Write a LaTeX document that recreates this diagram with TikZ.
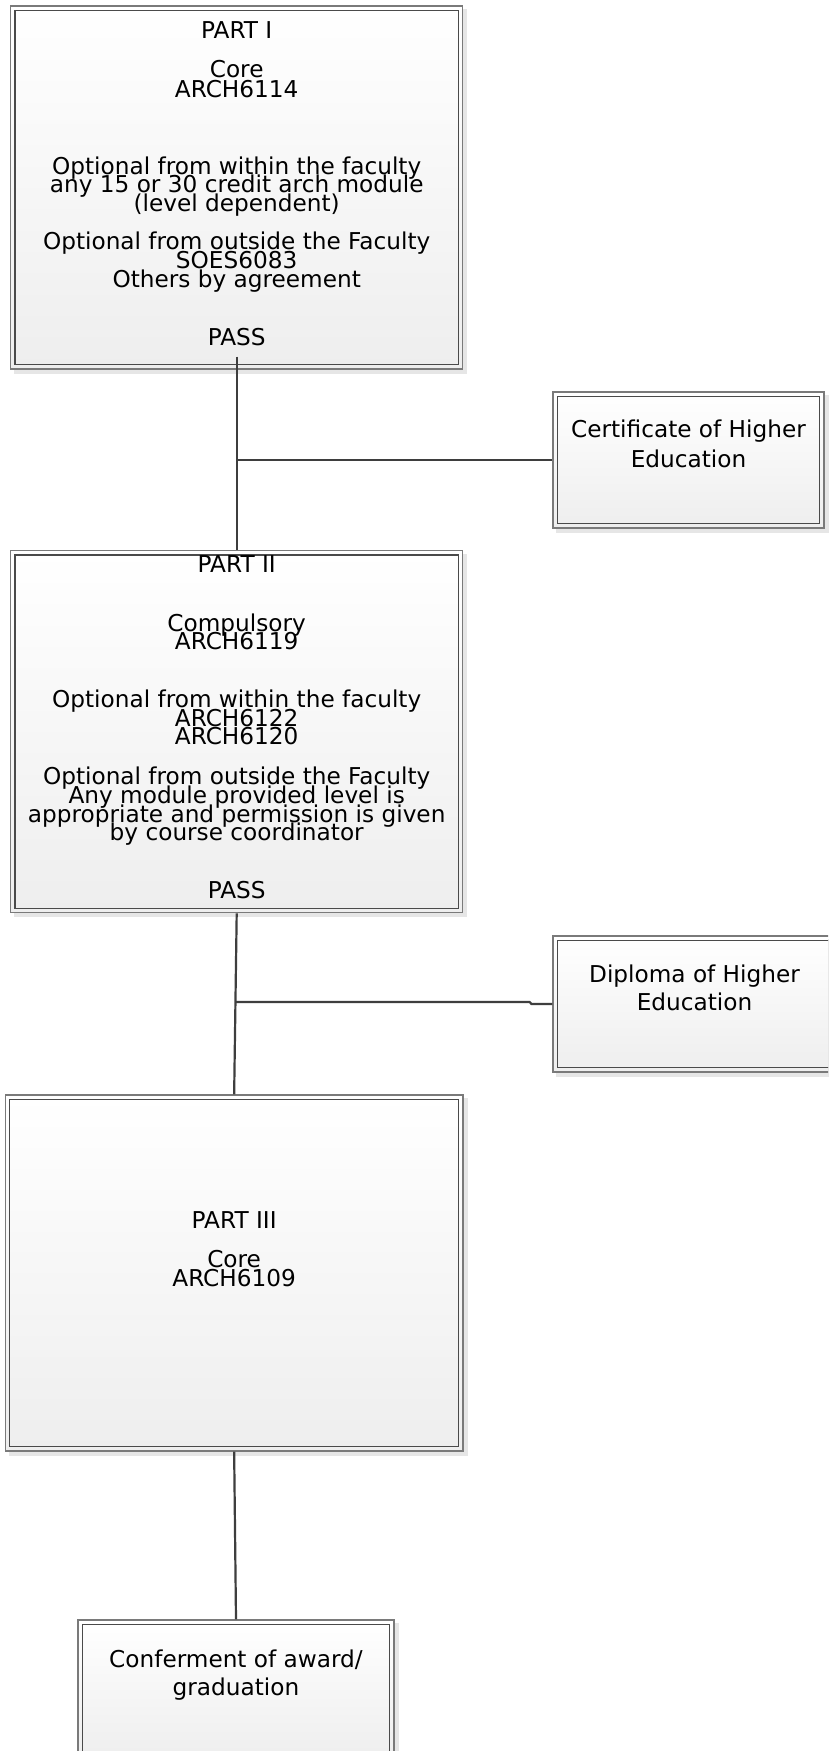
\documentclass[tikz,border=0pt]{standalone}
\usepackage{fontspec}
\setmainfont{DejaVu Sans}
\pgfdeclarelayer{background}
\pgfsetlayers{background,main}
\definecolor{outerc}{HTML}{7A7A7A}
\definecolor{innerc}{HTML}{4A4A4A}
\definecolor{linec}{HTML}{3E3E3E}
\definecolor{shadowc}{HTML}{E6E6E6}
\definecolor{fillbot}{HTML}{EEEEEE}
\tikzset{
  box/.style={rectangle, draw=outerc, line width=1.2pt, inner sep=0pt,
              top color=white, bottom color=fillbot},
  innerbox/.style={draw=innerc, line width=1.4pt},
  shade box/.style={fill=shadowc},
  conn/.style={draw=linec, line width=2.2pt},
  txt/.style={anchor=base, inner sep=0pt, font=\fontsize{23.2}{28}\selectfont, text=black},
}
\newcommand{\myframedeco}[1]{%
  \draw[innerbox] ([shift={(5,5)}]#1.north west) rectangle ([shift={(-5,-5)}]#1.south east);
  \begin{pgfonlayer}{background}
    \fill[shade box] ([shift={(4,4)}]#1.north west) rectangle ([shift={(4,4)}]#1.south east);
  \end{pgfonlayer}}
\begin{document}
\begin{tikzpicture}[x=1pt, y=-1pt]
\begin{pgfonlayer}{background}
\fill[white] (0,0) rectangle (828,1751);
\end{pgfonlayer}
\useasboundingbox (0,0) rectangle (828,1751);
\clip (0,0) rectangle (828,1751);

% boxes
\node[box, minimum width=452pt, minimum height=363pt] (p1) at (236.7,187.5) {};
\myframedeco{p1}
\node[box, minimum width=452pt, minimum height=362pt] (p2) at (236.7,731.7) {};
\myframedeco{p2}
\node[box, minimum width=457.7pt, minimum height=356pt] (p3) at (234.15,1273) {};
\myframedeco{p3}
\node[box, minimum width=271pt, minimum height=136pt] (cert) at (688.5,460) {};
\myframedeco{cert}
\node[box, minimum width=283pt, minimum height=136pt] (dipl) at (694.5,1004) {};
\myframedeco{dipl}
\node[box, minimum width=316pt, minimum height=140pt] (conf) at (236,1690) {};
\myframedeco{conf}

% texts
\foreach \t/\y [count=\i] in {{PART I}/38, {Core}/77, {ARCH6114}/97,
  {Optional from within the faculty}/174, {any 15 or 30 credit arch module}/192,
  {(level dependent)}/211, {Optional from outside the Faculty}/249,
  {SOES6083}/268, {Others by agreement}/287, {PASS}/345}
  \node[txt] (ta\i) at (236.7,\y) {\t};

\foreach \t/\y [count=\i] in {{PART II}/572, {Compulsory}/631, {ARCH6119}/649,
  {Optional from within the faculty}/707, {ARCH6122}/726, {ARCH6120}/744,
  {Optional from outside the Faculty}/784, {Any module provided level is}/803,
  {appropriate and permission is given}/822, {by course coordinator}/840, {PASS}/898}
  \node[txt] (tb\i) at (236.7,\y) {\t};

\foreach \t/\y [count=\i] in {{PART III}/1228, {Core}/1267, {ARCH6109}/1286}
  \node[txt] (tc\i) at (234.15,\y) {\t};

\foreach \t/\y [count=\i] in {{Certificate of Higher}/437, {Education}/467}
  \node[txt] (td\i) at (688.5,\y) {\t};

\foreach \t/\y [count=\i] in {{Diploma of Higher}/982, {Education}/1010}
  \node[txt] (te\i) at (694.5,\y) {\t};

\foreach \t/\y [count=\i] in {{Conferment of award/}/1667, {graduation}/1695}
  \node[txt] (tf\i) at (236,\y) {\t};

% connectors
\coordinate (s1) at ([yshift=13pt]p1.south);
\coordinate (j1) at (236.7,460);
\draw[conn] (s1) -- (p2.north);
\draw[conn] (j1) -- (cert.west);

\coordinate (j2) at (235.5,1002);
\coordinate (k2a) at (529.6,1002);
\coordinate (k2b) at (531.5,1004);
\draw[conn] (p2.south) -- (p3.north);
\draw[conn] (j2) -- (k2a) -- (k2b) -- (dipl.west);

\draw[conn] (p3.south) -- (conf.north);
\end{tikzpicture}
\end{document}
